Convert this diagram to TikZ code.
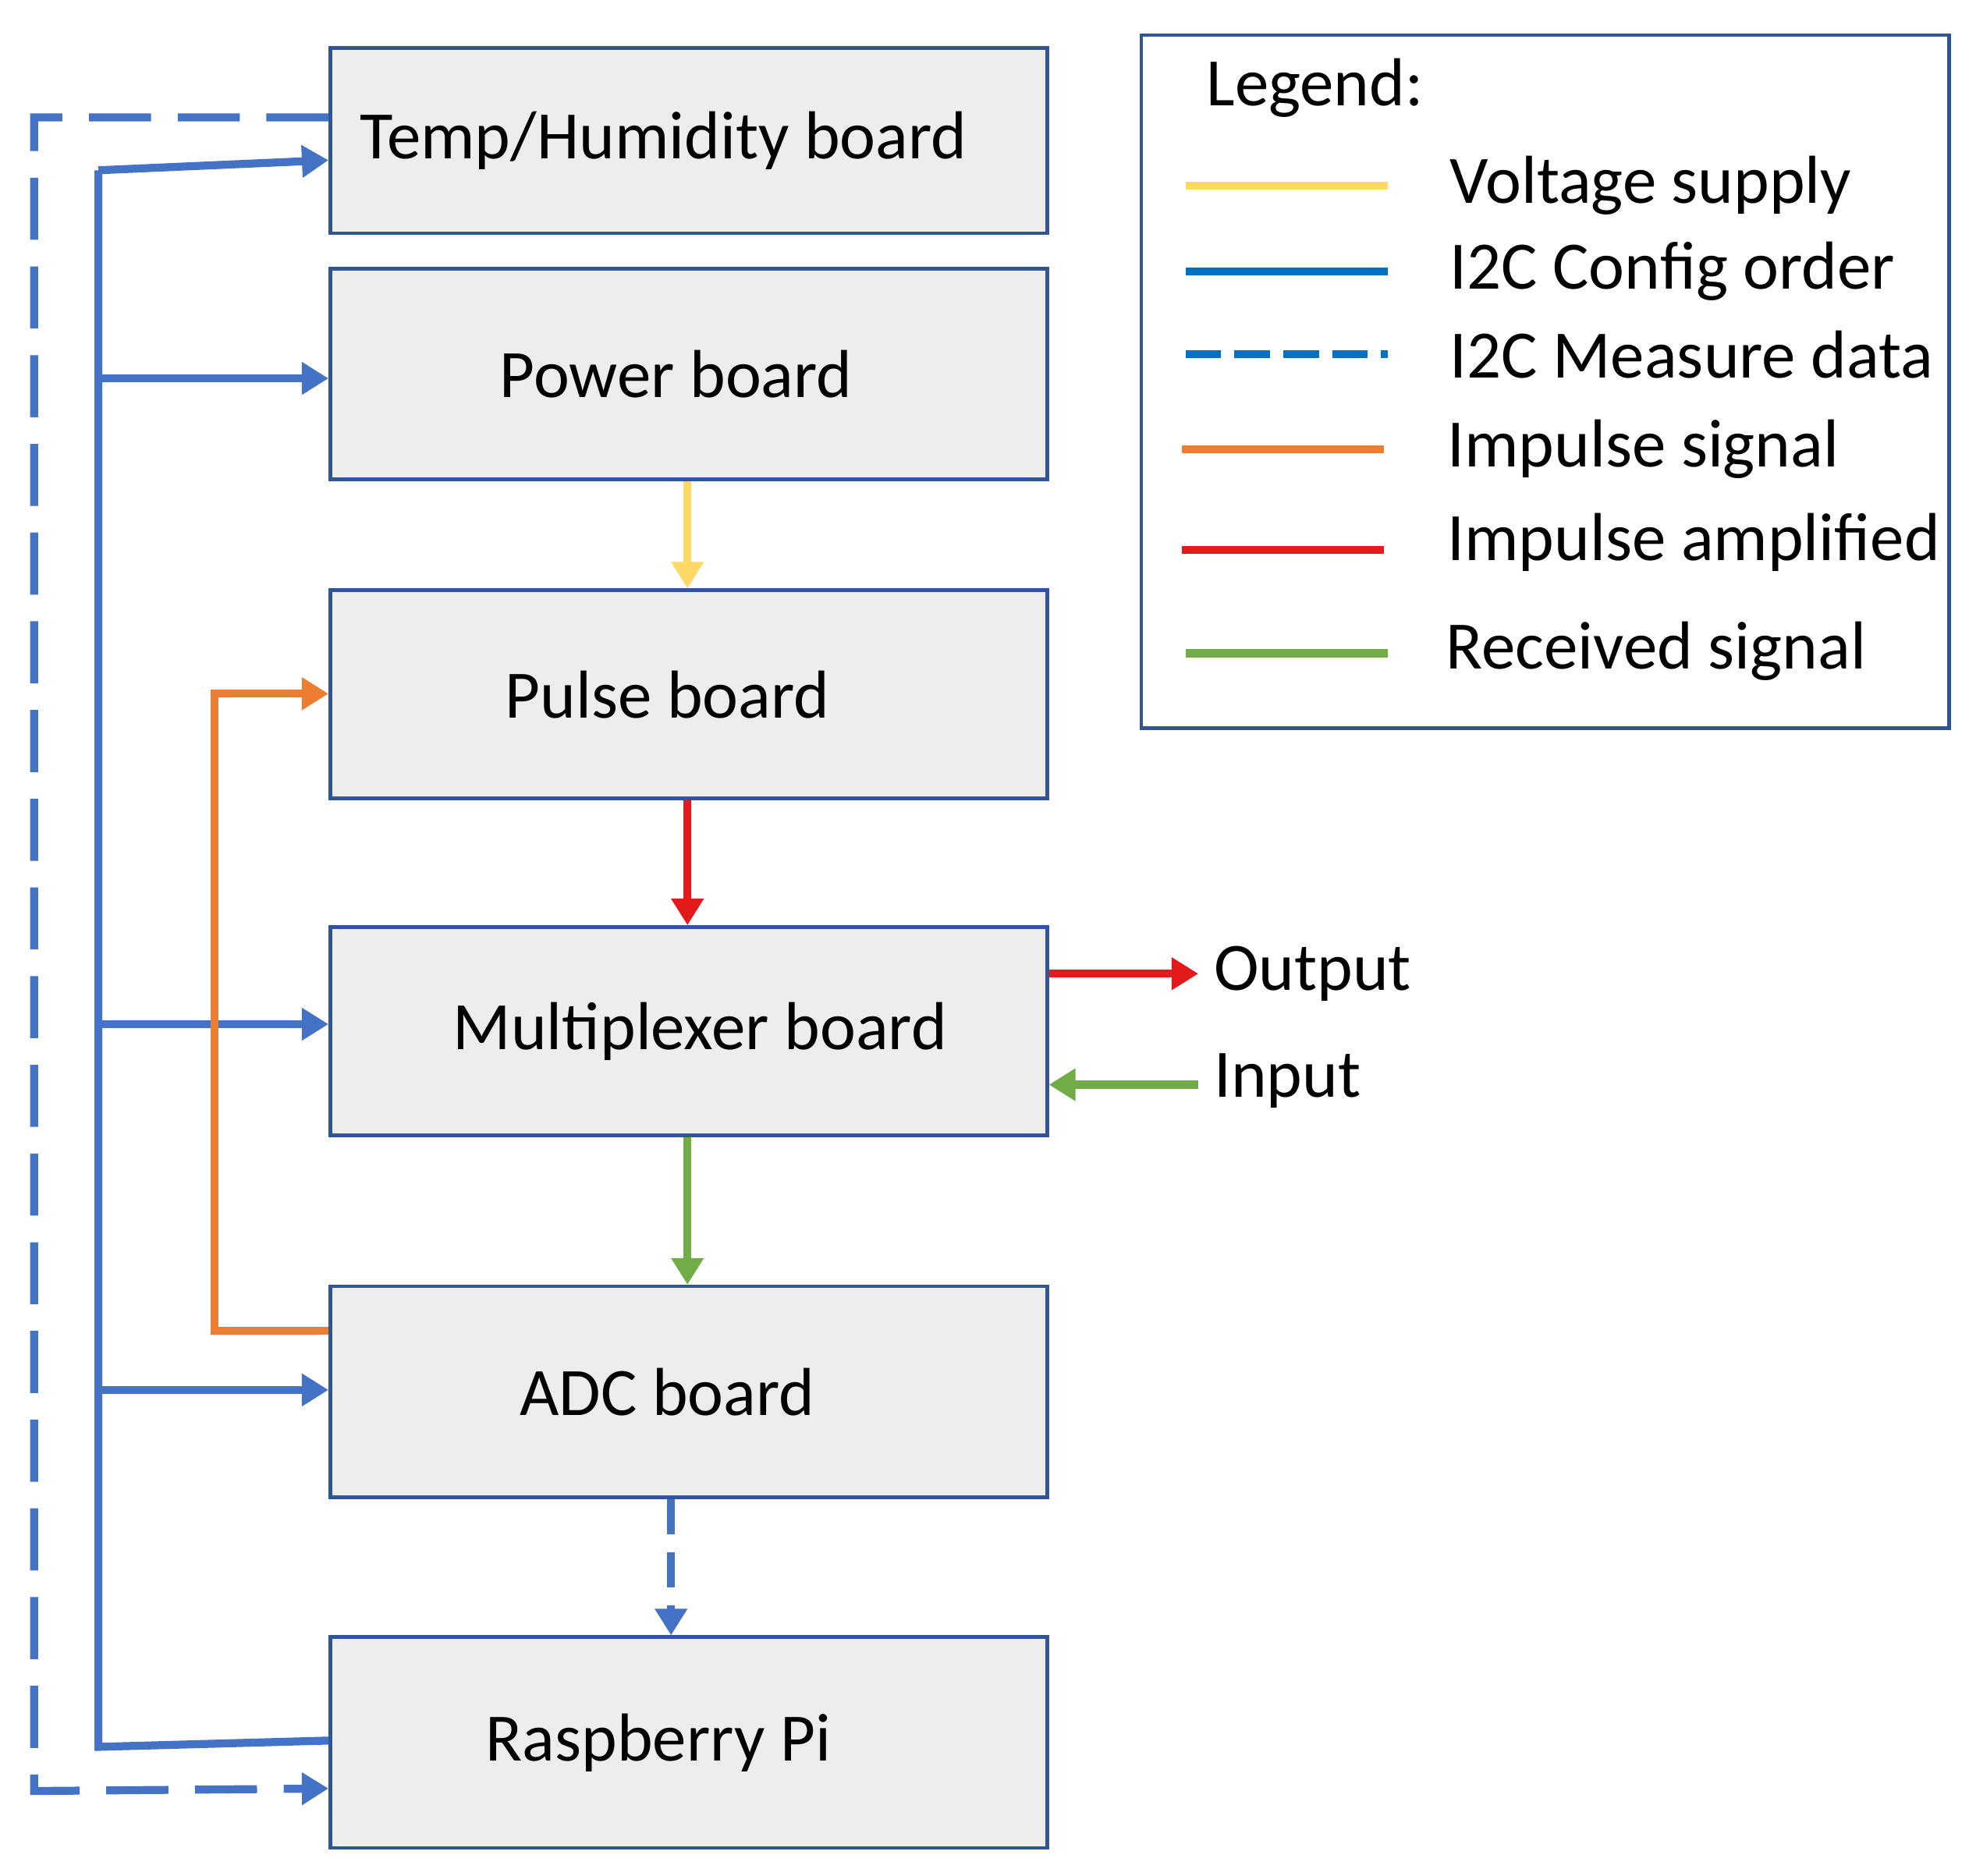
\documentclass[tikz,border=0pt]{standalone}
\usepackage{fontspec}
\setmainfont{Carlito}
\usetikzlibrary{arrows.meta}
\definecolor{cblue}{HTML}{4472C4}
\definecolor{lblue}{HTML}{0070C0}
\definecolor{cyel}{HTML}{FFD966}
\definecolor{corg}{HTML}{ED7D31}
\definecolor{cred}{HTML}{E31A1C}
\definecolor{cgrn}{HTML}{70AD47}
\definecolor{bfill}{HTML}{EDEDED}
\definecolor{bdraw}{HTML}{2F5597}
\begin{document}
\begin{tikzpicture}[x=0.01cm,y=-0.01cm,
 box/.style={draw=bdraw,fill=bfill,line width=0.8pt,minimum width=5.68cm,inner sep=0pt,font=\fontsize{15.3}{18}\selectfont},
 con/.style={line width=1.8pt,-{Triangle[length=6pt,width=7pt]}},
 lt/.style={anchor=west,font=\fontsize{15.3}{18}\selectfont},
 ll/.style={line width=1.8pt}]
\useasboundingbox (0,0) rectangle (1561,1487);
\node[box,minimum height=1.47cm] (th) at (546,111.5) {Temp/Humidity board\kern0.4cm};
\node[box,minimum height=1.67cm] (pw) at (546,296.5) {Power board\kern0.2cm};
\node[box,minimum height=1.65cm] (pu) at (546,550.5) {Pulse board\kern0.34cm};
\node[box,minimum height=1.65cm] (mx) at (546,817.5) {\kern0.18cm Multiplexer board};
\node[box,minimum height=1.67cm] (adc) at (546,1103.5) {ADC board\kern0.34cm};
\node[box,minimum height=1.67cm] (rpi) at (546,1381.5) {Raspberry Pi\kern0.48cm};
% blue config
\coordinate (t1) at (78,135); \coordinate (t2) at (78,1385);
\draw[cblue,line width=1.8pt] (rpi.west|-0,1380) -- (t2) -- (t1);
\draw[con,cblue] (t1) -- (th.west|-0,127);
\draw[con,cblue] (78,300) -- (pw.west|-0,300);
\draw[con,cblue] (78,812) -- (mx.west|-0,812);
\draw[con,cblue] (78,1102) -- (adc.west|-0,1102);
% dashed measure
\draw[con,cblue,dash pattern=on 14pt off 6pt] (th.west|-0,93) -- (27,93) -- (27,1420) -- (rpi.west|-0,1418);
% orange
\draw[con,corg] (adc.west|-0,1055) -- (170,1055) -- (170,550) -- (pu.west|-0,550);
% vertical
\draw[con,cyel] (pw.south-|545,0) -- (pu.north-|545,0);
\draw[con,cred] (pu.south-|545,0) -- (mx.north-|545,0);
\draw[con,cgrn] (mx.south-|545,0) -- (adc.north-|545,0);
\draw[con,cblue,dash pattern=on 8pt off 4pt] (adc.south-|532,0) -- (rpi.north-|532,0);
% out/in
\node[lt] (out) at (950,772) {Output};
\node[lt] (in) at (950,857) {Input};
\draw[con,cred] (mx.east|-0,772) -- (out.west);
\draw[con,cgrn] (in.west|-0,860) -- (mx.east|-0,860);
% legend
\node[draw=bdraw,line width=0.8pt,minimum width=6.4cm,minimum height=5.49cm,inner sep=0pt] (leg) at (1225,302.5) {};
\node[lt] (lg) at (944,70) {Legend:};
\node[lt] (l1) at (1137,147) {Voltage supply};
\node[lt] (l2) at (1137,215) {I2C Config order};
\node[lt] (l3) at (1137,281) {I2C Measure data};
\node[lt] (l4) at (1135,356) {Impulse signal};
\node[lt] (l5) at (1135,430) {Impulse amplified};
\node[lt] (l6) at (1134,516) {Received signal};
\draw[ll,cyel] (940,147) -- (1100,147);
\draw[ll,lblue] (940,215) -- (1100,215);
\draw[ll,lblue,dash pattern=on 8pt off 3pt] (940,281) -- (1100,281);
\draw[ll,corg] (937,356) -- (1097,356);
\draw[ll,cred] (937,436) -- (1097,436);
\draw[ll,cgrn] (940,518) -- (1100,518);
\end{tikzpicture}
\end{document}
